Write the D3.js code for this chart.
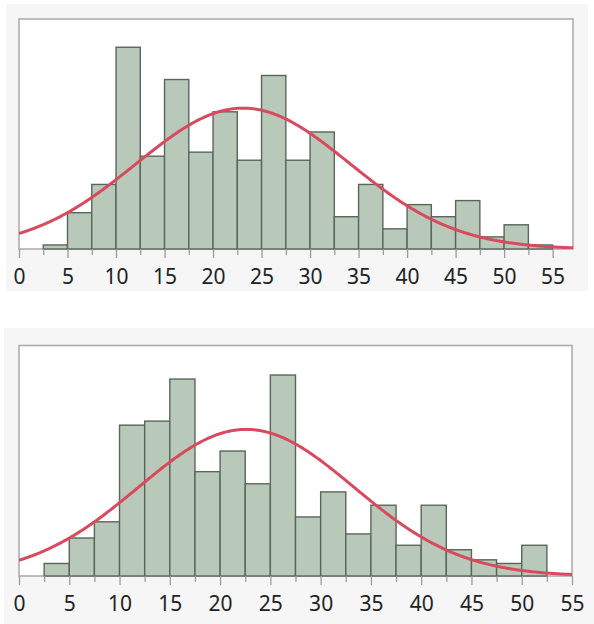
<!DOCTYPE html>
<html>
<head>
<meta charset="utf-8">
<script src="https://cdn.jsdelivr.net/npm/d3@7"></script>
<style>
  body { margin: 0; background: #ffffff; }
  .tick text { font-family: "Noto Sans", "Open Sans", sans-serif; fill: #222; }
</style>
</head>
<body>
<div id="vis"></div>
<script>
// frame
const FRAME_WIDTH = 594;
const FRAME_HEIGHT = 624;

// data
const BIN_WIDTH = 2.5;
const X_TICKS = [0, 5, 10, 15, 20, 25, 30, 35, 40, 45, 50, 55];
const MINOR_TICKS = [2.5, 7.5, 12.5, 17.5, 22.5, 27.5, 32.5, 37.5, 42.5, 47.5, 52.5];

const TOP_BINS = [2.5, 5, 7.5, 10, 12.5, 15, 17.5, 20, 22.5, 25, 27.5, 30, 32.5, 35, 37.5, 40, 42.5, 45, 47.5, 50, 52.5];
const TOP_COUNTS = [1, 9, 16, 50, 23, 42, 24, 34, 22, 43, 22, 29, 8, 16, 5, 11, 8, 12, 3, 6, 1];
const TOP_FIT = [23.1, 11.0]; // mean, sd

const BOTTOM_BINS = [2.5, 5, 7.5, 10, 12.5, 15, 17.5, 20, 22.5, 25, 27.5, 30, 32.5, 35, 37.5, 40, 42.5, 45, 47.5, 50];
const BOTTOM_COUNTS = [3.1, 9.4, 13.4, 37.3, 38.3, 48.7, 25.8, 30.9, 22.8, 49.7, 14.6, 20.8, 10.4, 17.5, 7.6, 17.5, 6.5, 4.0, 3.1, 7.6];
const BOTTOM_FIT = [22.6, 10.7];

const Y_MAX = 57;

const SVG = d3.select("#vis")
              .append("svg")
                .attr("width", FRAME_WIDTH)
                .attr("height", FRAME_HEIGHT);

function drawPanel(bg, box, xMax, bins, counts, fit, clipId) {

  SVG.append("rect")
      .attr("x", bg.x).attr("y", bg.y)
      .attr("width", bg.w).attr("height", bg.h)
      .attr("fill", "#f6f6f6");

  const X = d3.scaleLinear().domain([0, xMax]).range([box.left, box.right]);
  const Y = d3.scaleLinear().domain([0, Y_MAX]).range([box.bottom, box.top]);

  // plot area
  SVG.append("rect")
      .attr("x", box.left).attr("y", box.top)
      .attr("width", box.right - box.left).attr("height", box.bottom - box.top)
      .attr("fill", "#ffffff")
      .attr("stroke", "#a9a9a9")
      .attr("stroke-width", 1.5);

  SVG.append("clipPath").attr("id", clipId)
    .append("rect")
      .attr("x", box.left).attr("y", box.top)
      .attr("width", box.right - box.left).attr("height", box.bottom - box.top);

  // bars
  SVG.append("g").selectAll("rect")
      .data(bins.map((b, i) => ({x0: b, c: counts[i]})))
      .enter()
      .append("rect")
        .attr("x", (d) => X(d.x0))
        .attr("y", (d) => Y(d.c))
        .attr("width", (d) => X(d.x0 + BIN_WIDTH) - X(d.x0))
        .attr("height", (d) => Y(0) - Y(d.c))
        .attr("fill", "#b9c9b9")
        .attr("stroke", "#5a665c")
        .attr("stroke-width", 1.4);

  // normal fit
  const n = d3.sum(counts);
  const dens = (x) => n * BIN_WIDTH / (fit[1] * Math.sqrt(2 * Math.PI)) *
                      Math.exp(-((x - fit[0]) ** 2) / (2 * fit[1] * fit[1]));
  const xs = d3.range(0, xMax + 0.05, 0.1);

  SVG.append("path")
      .datum(xs)
      .attr("clip-path", "url(#" + clipId + ")")
      .attr("d", d3.line().x((d) => X(d)).y((d) => Y(dens(d))))
      .attr("fill", "none")
      .attr("stroke", "#d84a5e")
      .attr("stroke-width", 3);

  // axis
  const major = SVG.append("g")
      .attr("transform", "translate(0," + box.bottom + ")")
      .call(d3.axisBottom(X).tickValues(X_TICKS).tickSize(9).tickPadding(11).tickFormat(d3.format("d")));
  major.select(".domain").remove();
  major.selectAll("line").attr("stroke", "#9c9c9c").attr("stroke-width", 1.3);
  major.selectAll("text").attr("font-size", "21px");

  const minor = SVG.append("g")
      .attr("transform", "translate(0," + box.bottom + ")")
      .call(d3.axisBottom(X).tickValues(MINOR_TICKS).tickSize(6).tickFormat(""));
  minor.select(".domain").remove();
  minor.selectAll("line").attr("stroke", "#9c9c9c").attr("stroke-width", 1.3);
}

drawPanel({x: 6, y: 4, w: 582, h: 287},
          {left: 19, top: 19, right: 573, bottom: 249},
          57.1, TOP_BINS, TOP_COUNTS, TOP_FIT, "clipTop");

drawPanel({x: 4, y: 328, w: 590, h: 296},
          {left: 19, top: 345.5, right: 572, bottom: 576},
          55, BOTTOM_BINS, BOTTOM_COUNTS, BOTTOM_FIT, "clipBottom");
</script>
</body>
</html>
